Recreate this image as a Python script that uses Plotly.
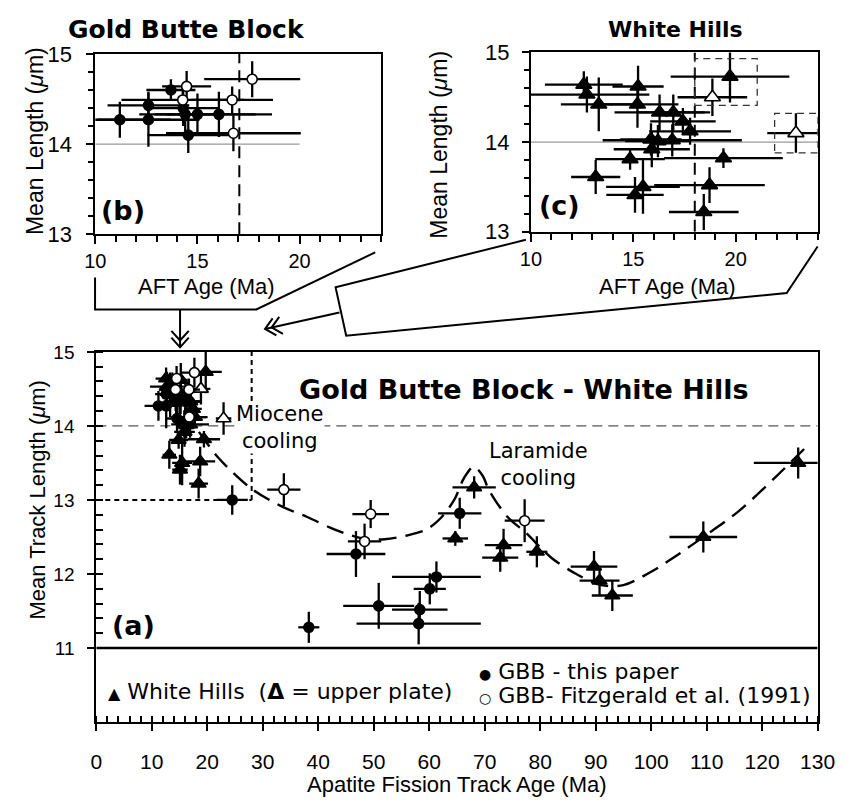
import numpy as np
import plotly.graph_objects as go

W, H = 853, 810

# ---- data: apatite fission-track age (Ma) vs mean track length (um) ----
# Gold Butte Block, this paper (filled circles)
gbb_age = [11.2, 12.6, 12.6, 13.7, 14.3, 14.4, 14.55, 15.0, 16.05,
           24.5, 38.3, 46.8, 50.9, 58.3, 58.1, 60.1, 61.3, 65.5]
gbb_len = [14.27, 14.43, 14.27, 14.60, 14.40, 14.33, 14.10, 14.33, 14.33,
           13.00, 11.28, 12.27, 11.57, 11.52, 11.33, 11.80, 11.96, 12.82]
gbb_age_err = [2.5, 2.0, 2.5, 1.2, 1.8, 1.5, 2.0, 2.85, 2.6,
               2.8, 1.9, 5.3, 6.4, 5.0, 11.2, 2.9, 8.0, 3.9]
gbb_len_err = [0.20, 0.15, 0.30, 0.12, 0.20, 0.20, 0.20, 0.23, 0.25,
               0.20, 0.21, 0.31, 0.31, 0.25, 0.28, 0.21, 0.21, 0.21]

# Gold Butte Block, Fitzgerald et al. (1991) (open circles)
fitz_age = [14.47, 14.28, 16.70, 17.68, 16.76, 33.8, 49.45, 48.35, 77.2]
fitz_len = [14.64, 14.49, 14.49, 14.72, 14.12, 13.14, 12.81, 12.44, 12.72]
fitz_age_err = [1.2, 3.0, 2.0, 2.35, 3.3, 3.0, 3.3, 3.0, 3.6]
fitz_len_err = [0.17, 0.15, 0.15, 0.20, 0.20, 0.22, 0.19, 0.24, 0.29]

# White Hills, lower plate (filled triangles)
wh_age = [12.58, 12.73, 13.31, 15.23, 15.20, 16.28, 16.95, 17.42, 17.77, 15.86,
          16.20, 16.90, 15.90, 14.84, 13.16, 15.08, 15.47, 18.72, 18.44, 19.40,
          19.72, 68.1, 64.7, 73.4, 72.8, 79.4, 89.7, 90.7, 93.0, 109.4, 126.5]
wh_len = [14.64, 14.53, 14.42, 14.62, 14.42, 14.33, 14.33, 14.23, 14.12, 14.03,
          14.01, 14.02, 13.92, 13.81, 13.61, 13.41, 13.50, 13.52, 13.22, 13.82,
          14.73, 13.17, 12.48, 12.39, 12.22, 12.30, 12.10, 11.91, 11.71, 12.50, 13.50]
wh_age_err = [1.9, 3.05, 1.85, 1.25, 2.0, 2.2, 1.8, 1.6, 2.0, 1.5,
              1.6, 3.4, 1.86, 1.7, 1.2, 1.4, 1.8, 2.7, 1.7, 2.9,
              2.9, 3.9, 2.3, 3.4, 3.25, 1.9, 4.2, 3.6, 3.7, 6.1, 8.0]
wh_len_err = [0.15, 0.20, 0.30, 0.23, 0.26, 0.20, 0.20, 0.15, 0.15, 0.18,
              0.18, 0.18, 0.20, 0.12, 0.19, 0.20, 0.30, 0.20, 0.20, 0.11,
              0.29, 0.15, 0.10, 0.22, 0.19, 0.21, 0.21, 0.20, 0.21, 0.21, 0.21]

# White Hills, upper plate (open triangles)
up_age = [18.86, 22.94]
up_len = [14.50, 14.10]
up_age_err = [1.7, 1.4]
up_len_err = [0.21, 0.22]

# interpreted cooling path (dashed curve)
trend_age = [18.5, 22.0, 28.0, 33.5, 38.0, 43.0, 48.0, 52.0, 56.0, 59.5, 62.0,
             64.5, 66.3, 68.0, 69.6, 70.8, 74.0, 77.5, 82.0, 86.5, 91.0, 95.0,
             100.0, 105.0, 109.4, 115.8, 122.7, 128.0]
trend_len = [13.92, 13.57, 13.15, 12.91, 12.77, 12.60, 12.48, 12.47, 12.52, 12.60, 12.75,
             13.00, 13.30, 13.45, 13.33, 13.13, 12.78, 12.55, 12.22, 12.00, 11.85, 11.85,
             12.03, 12.27, 12.50, 12.85, 13.33, 13.72]

main_ticks = list(range(0, 131, 10))
main_len_ticks = [11, 12, 13, 14, 15]
inset_age_ticks = [10, 15, 20]
inset_len_ticks = [13, 14, 15]
INSET_MAX_AGE = 24


# ---- helpers for pixel-based placement on the page ----
def fx(p):
    return p / W


def fy(p):
    return 1 - p / H


fig = go.Figure()


def add_group(age, length, age_err, len_err, xa, ya, symbol, fill, size, max_age=None):
    age = np.asarray(age, float)
    length = np.asarray(length, float)
    age_err = np.asarray(age_err, float)
    len_err = np.asarray(len_err, float)
    if max_age is not None:
        m = age <= max_age
        age, length, age_err, len_err = age[m], length[m], age_err[m], len_err[m]
    fig.add_trace(go.Scatter(
        x=age, y=length, mode="markers", xaxis=xa, yaxis=ya,
        marker=dict(symbol=symbol, size=size, color=fill,
                    line=dict(color="black", width=1.6)),
        error_x=dict(type="data", array=age_err, visible=True,
                     color="black", thickness=2.3, width=0),
        error_y=dict(type="data", array=len_err, visible=True,
                     color="black", thickness=2.3, width=0),
        showlegend=False, hoverinfo="skip"))


# cooling path in the main panel
fig.add_trace(go.Scatter(
    x=trend_age, y=trend_len, mode="lines", xaxis="x", yaxis="y",
    line=dict(color="black", width=2.4, dash="18px,9px", shape="spline", smoothing=0.9),
    showlegend=False, hoverinfo="skip"))

# main panel (a)
add_group(wh_age, wh_len, wh_age_err, wh_len_err, "x", "y", "triangle-up", "black", 13)
add_group(up_age, up_len, up_age_err, up_len_err, "x", "y", "triangle-up", "white", 13)
add_group(gbb_age, gbb_len, gbb_age_err, gbb_len_err, "x", "y", "circle", "black", 10)
add_group(fitz_age, fitz_len, fitz_age_err, fitz_len_err, "x", "y", "circle", "white", 10)

# inset (b): Gold Butte Block
add_group(gbb_age, gbb_len, gbb_age_err, gbb_len_err, "x2", "y2", "circle", "black", 10, INSET_MAX_AGE)
add_group(fitz_age, fitz_len, fitz_age_err, fitz_len_err, "x2", "y2", "circle", "white", 10, INSET_MAX_AGE)

# inset (c): White Hills
add_group(wh_age, wh_len, wh_age_err, wh_len_err, "x3", "y3", "triangle-up", "black", 14, INSET_MAX_AGE)
add_group(up_age, up_len, up_age_err, up_len_err, "x3", "y3", "triangle-up", "white", 14, INSET_MAX_AGE)

TXT = "DejaVu Sans"
SANS = "Liberation Sans"


def tickfont(size):
    return dict(family=SANS, size=size, color="black")


axis_common = dict(showline=True, linewidth=2, linecolor="black", mirror=True,
                   showgrid=False, zeroline=False, ticks="outside", tickcolor="black",
                   tickwidth=2)

fig.update_layout(
    width=W, height=H, margin=dict(l=0, r=0, t=0, b=0),
    paper_bgcolor="white", plot_bgcolor="white",
    xaxis=dict(domain=[fx(88.3), fx(835)], range=[0, 130], anchor="y",
               tickmode="array", tickvals=main_ticks, ticklen=7,
               tickfont=tickfont(21), ticklabelstandoff=13,
               minor=dict(tickmode="linear", tick0=0, dtick=2, ticks="inside",
                          ticklen=6, tickwidth=1.6, tickcolor="black"),
               **axis_common),
    yaxis=dict(domain=[fy(732.7), fy(350.7)], range=[10, 15], anchor="x",
               tickmode="array", tickvals=main_len_ticks, ticklen=7,
               tickfont=tickfont(19), ticklabelstandoff=9,
               minor=dict(tickmode="array", tickvals=[round(v, 1) for v in np.arange(11.2, 15.0, 0.2)],
                          ticks="inside", ticklen=7, tickwidth=1.6, tickcolor="black"),
               **axis_common),
    xaxis2=dict(domain=[fx(87.3), fx(383.3)], range=[10, 24], anchor="y2",
                tickmode="array", tickvals=inset_age_ticks, ticklen=8,
                tickfont=tickfont(20),
                minor=dict(tickmode="linear", tick0=10, dtick=1, ticks="outside",
                           ticklen=6, tickwidth=1.6, tickcolor="black"),
                **axis_common),
    yaxis2=dict(domain=[fy(229.3), fy(43.3)], range=[13, 15], anchor="x2",
                tickmode="array", tickvals=inset_len_ticks, ticklen=7,
                tickfont=tickfont(22), ticklabelstandoff=10,
                minor=dict(tickmode="linear", tick0=13, dtick=0.2, ticks="outside",
                           ticklen=5, tickwidth=1.6, tickcolor="black"),
                **axis_common),
    xaxis3=dict(domain=[fx(538.3), fx(835)], range=[10, 24], anchor="y3",
                tickmode="array", tickvals=inset_age_ticks, ticklen=8,
                tickfont=tickfont(20),
                minor=dict(tickmode="linear", tick0=10, dtick=1, ticks="outside",
                           ticklen=6, tickwidth=1.6, tickcolor="black"),
                **axis_common),
    yaxis3=dict(domain=[fy(226.7), fy(41.7)], range=[13, 15], anchor="x3",
                tickmode="array", tickvals=inset_len_ticks, ticklen=7,
                tickfont=tickfont(22), ticklabelstandoff=8,
                minor=dict(tickmode="linear", tick0=13, dtick=0.2, ticks="outside",
                           ticklen=5, tickwidth=1.6, tickcolor="black"),
                **axis_common),
)

shapes = []
# main panel reference lines
shapes.append(dict(type="line", xref="x", yref="y", x0=0, x1=130, y0=14, y1=14,
                   line=dict(color="#555555", width=1.4, dash="10px,6px"), layer="below"))
shapes.append(dict(type="line", xref="x", yref="y", x0=0, x1=130, y0=11, y1=11,
                   line=dict(color="black", width=2.4)))
shapes.append(dict(type="line", xref="x", yref="y", x0=28, x1=28, y0=13, y1=15,
                   line=dict(color="black", width=2, dash="5px,4px")))
shapes.append(dict(type="line", xref="x", yref="y", x0=0, x1=28, y0=13, y1=13,
                   line=dict(color="black", width=2, dash="5px,4px")))

# inset (b)
shapes.append(dict(type="line", xref="x2", yref="y2", x0=10, x1=20, y0=14, y1=14,
                   line=dict(color="#999999", width=1.2), layer="below"))
shapes.append(dict(type="line", xref="x2", yref="y2", x0=17.05, x1=17.05, y0=13, y1=15,
                   line=dict(color="black", width=2, dash="12px,7px")))
# inset (c)
shapes.append(dict(type="line", xref="x3", yref="y3", x0=10, x1=24, y0=14, y1=14,
                   line=dict(color="#999999", width=1.2), layer="below"))
shapes.append(dict(type="line", xref="x3", yref="y3", x0=18, x1=18, y0=13, y1=15,
                   line=dict(color="black", width=2, dash="12px,7px")))
shapes.append(dict(type="rect", xref="x3", yref="y3", x0=18.0, x1=21.05, y0=14.41, y1=14.93,
                   line=dict(color="#333333", width=1.3, dash="7px,5px")))
shapes.append(dict(type="rect", xref="x3", yref="y3", x0=21.9, x1=24.0, y0=13.88, y1=14.32,
                   line=dict(color="#333333", width=1.3, dash="7px,5px")))


def page_path(points, closed=False):
    s = "M " + " L ".join(f"{fx(a):.5f},{fy(b):.5f}" for a, b in points)
    return s + (" Z" if closed else "")


def connector(points):
    shapes.append(dict(type="path", xref="paper", yref="paper", path=page_path(points),
                       line=dict(color="black", width=2)))


def double_arrow(start, tip):
    sx, sy = start
    tx, ty = tip
    d = np.array([tx - sx, ty - sy], float)
    d /= np.hypot(*d)
    n = np.array([-d[1], d[0]])
    connector([start, tip])
    for back in (0, 7):
        t = np.array([tx, ty]) - back * d
        a = t - 10 * d + 9 * n
        b = t - 10 * d - 9 * n
        connector([tuple(a), tuple(t), tuple(b)])


# zoom connectors from the insets down to the main panel
connector([(87, 274), (87, 307), (254, 307), (377, 248)])
double_arrow((175, 307), (175, 346))
connector([(533, 235), (336, 284), (347, 334), (803, 290), (835, 242)])
double_arrow((340, 310), (263, 327))

fig.update_layout(shapes=shapes)

ann = []


def text(x, y, s, size, family=TXT, angle=0, xanchor="center", bg=None, bold=False):
    ann.append(dict(xref="paper", yref="paper", x=fx(x), y=fy(y), text=f"<b>{s}</b>" if bold else s,
                    showarrow=False, xanchor=xanchor, yanchor="middle", textangle=angle,
                    font=dict(family=family, size=size, color="black"),
                    bgcolor=bg, borderpad=0))


# titles
text(182, 18, "Gold Butte Block", 25, bold=True)
text(688, 18, "White Hills", 22, bold=True)
text(531, 390, "Gold Butte Block - White Hills", 27, bold=True)

# panel letters
text(116, 205, "(b)", 27, bold=True)
text(568, 200, "(c)", 27, bold=True)
text(127, 633, "(a)", 27, bold=True)

# axis titles
text(25, 133, "Mean Length (<i>μ</i>m)", 23, family=SANS, angle=-90)
text(443, 137, "Mean Length (<i>μ</i>m)", 23, family=SANS, angle=-90)
text(202, 283, "AFT Age (Ma)", 22, family=SANS)
text(680, 283, "AFT Age (Ma)", 22, family=SANS)
text(27, 503, "Mean Track Length (<i>μ</i>m)", 22, family=SANS, angle=-90)
text(462, 797, "Apatite Fission Track Age (Ma)", 22, family=SANS)

# interpretive labels
text(278, 429, "Miocene<br>cooling", 21, bg="white")
text(546, 467, "Laramide<br>cooling", 21)

# key
text(99, 701, "<span style='font-size:16px'>▲</span> White Hills  (<b>Δ</b> = upper plate)", 22, xanchor="left")
text(483, 680, "<span style='font-size:14px'>●</span> GBB - this paper", 22, xanchor="left")
text(483, 705, "<span style='font-size:14px'>○</span> GBB- Fitzgerald et al. (1991)", 22, xanchor="left")

fig.update_layout(annotations=ann)

fig.write_html("out.html")
